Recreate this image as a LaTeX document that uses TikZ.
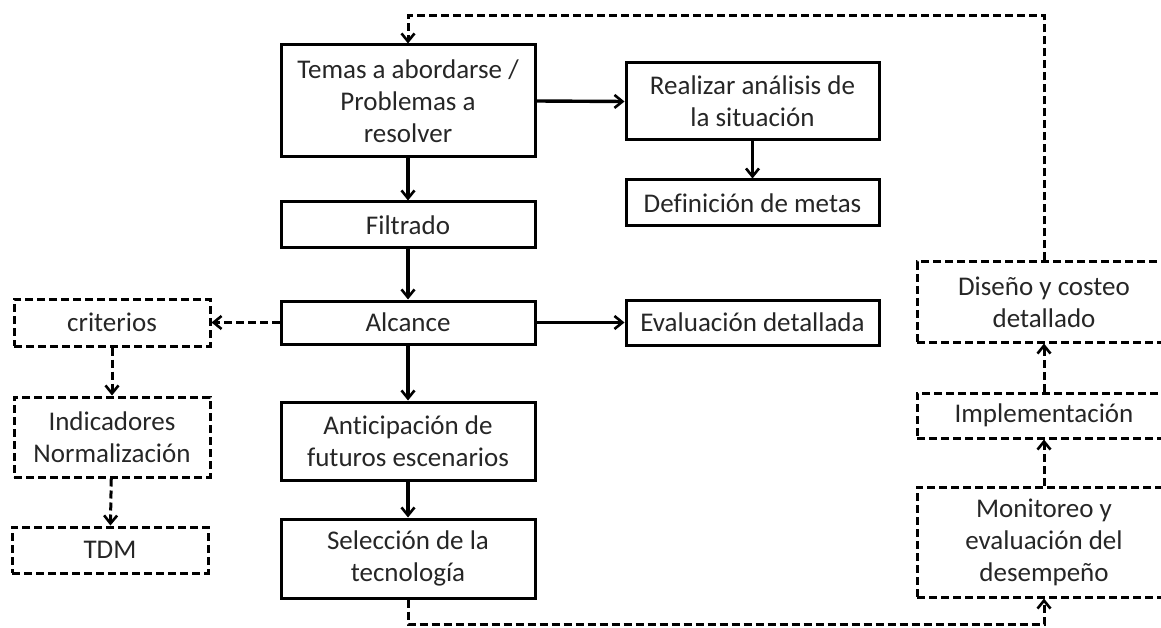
\documentclass[tikz,border=0pt]{standalone}
\usepackage{fontspec}
\setmainfont{Carlito}[Ligatures=NoCommon]
\usetikzlibrary{arrows.meta}

\tikzset{
  caja/.style={draw, line width=3pt, align=center, inner sep=2pt, text=black!85, font=\fontsize{27}{32}\selectfont},
  cajad/.style={caja, line width=3pt, dash pattern=on 8pt off 4pt},
  flecha/.style={line width=3.4pt, -{Straight Barb[length=8pt,width=13pt,line width=2.6pt]}},
  flechad/.style={line width=3pt, dash pattern=on 8pt off 4pt, -{Straight Barb[length=8pt,width=13pt,line width=2.6pt]}}
}

\begin{document}
\begin{tikzpicture}[x=1pt,y=-1pt]
	\clip (0,0) rectangle (1161,628);
	
	% columna central
	\node[caja, minimum width=254pt, minimum height=112pt] (temas) at (408,101) {Temas a abordarse /\\Problemas a\\resolver};
	\node[caja, minimum width=254pt, minimum height=46pt] (filtrado) at (408,225) {Filtrado};
	\node[caja, minimum width=254pt, minimum height=43pt] (alcance) at (408,322.5) {Alcance};
	\node[caja, minimum width=254pt, minimum height=78pt] (anticipacion) at (408,441) {Anticipación de\\futuros escenarios};
	\node[caja, minimum width=254pt, minimum height=79pt] (seleccion) at (408,558.5) {Selección de la\\tecnología};
	
	% columna derecha
	\node[caja, minimum width=253pt, minimum height=77pt] (analisis) at (752.5,101.5) {Realizar análisis de\\la situación};
	\node[caja, minimum width=253pt, minimum height=46pt] (metas) at (752.5,203) {Definición de metas};
	\node[caja, minimum width=253pt, minimum height=45pt] (evaluacion) at (752.5,322.5) {Evaluación detallada};
	
	% columna izquierda (punteada)
	\node[cajad, minimum width=196pt, minimum height=47pt] (criterios) at (112,322.5) {criterios};
	\node[cajad, minimum width=196pt, minimum height=80pt] (indicadores) at (112,437) {Indicadores\\Normalización};
	\node[cajad, minimum width=196pt, minimum height=46pt] (tdm) at (110,550) {TDM};
	
	% ciclo de la derecha (punteado)
	\node[cajad, minimum width=254pt, minimum height=80pt] (diseno) at (1044,302) {Diseño y costeo\\detallado};
	\node[cajad, minimum width=254pt, minimum height=45pt] (implementacion) at (1044,415.5) {Implementación};
	\node[cajad, minimum width=254pt, minimum height=110pt] (monitoreo) at (1044,542) {Monitoreo y\\evaluación del\\desempeño};
	
	\coordinate (arriba) at (700,16);
	\coordinate (abajo) at (700,624);
	
	% flechas
	\draw[flecha] (temas) -- (filtrado);
	\draw[flecha] (filtrado) -- (alcance);
	\draw[flecha] (alcance) -- (anticipacion);
	\draw[flecha] (anticipacion) -- (seleccion);
	\draw[flecha] (temas.east) -- (analisis.west);
	\draw[flecha, line width=2.6pt] (analisis) -- (metas);
	\draw[flecha] (alcance.east) -- (evaluacion.west);
	\draw[flechad] (alcance.west) -- (criterios.east);
	\draw[flechad] (criterios) -- (indicadores);
	\draw[flechad] (indicadores) -- (tdm);
	\draw[flechad] (monitoreo) -- (implementacion);
	\draw[flechad] (implementacion) -- (diseno);
	\draw[flechad] (diseno.north) |- (arriba) -| (temas.north);
	\draw[flechad] (seleccion.south) |- (abajo) -| (monitoreo.south);
	
\end{tikzpicture}
\end{document}
